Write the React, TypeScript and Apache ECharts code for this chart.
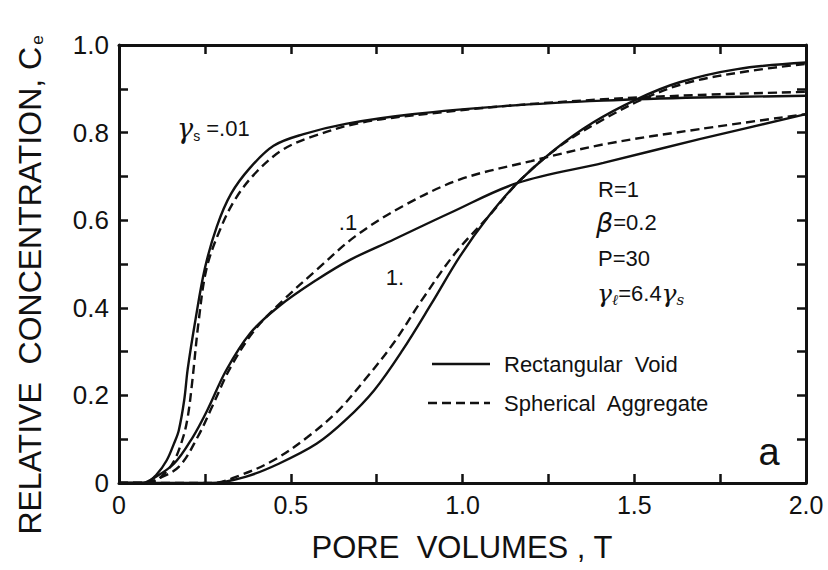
import React, { useEffect, useRef } from "react";
import * as echarts from "echarts";

// Tick values and labels
const xTickValues = [0, 0.5, 1.0, 1.5, 2.0];
const xTickLabels = ["0", "0.5", "1.0", "1.5", "2.0"];
const yTickValues = [0, 0.2, 0.4, 0.6, 0.8, 1.0];
const yTickLabels = ["0", "0.2", "0.4", "0.6", "0.8", "1.0"];

// gamma_s = .01
const rect001: [number, number][] = [
  [0, 0], [0.076, 0], [0.11, 0.02], [0.139, 0.052], [0.16, 0.09], [0.174, 0.12], [0.19, 0.19],
  [0.2, 0.26], [0.222, 0.37], [0.25, 0.49], [0.285, 0.586], [0.326, 0.66],
  [0.382, 0.72], [0.45, 0.77], [0.535, 0.796], [0.66, 0.82], [0.854, 0.842],
  [1.13, 0.861], [1.41, 0.873], [1.69, 0.88], [2.0, 0.884],
];
const sph001: [number, number][] = [
  [0, 0], [0.09, 0], [0.13, 0.02], [0.16, 0.05], [0.185, 0.1], [0.2, 0.15], [0.213, 0.23],
  [0.232, 0.37], [0.255, 0.49], [0.295, 0.58], [0.34, 0.65],
  [0.4, 0.71], [0.475, 0.76], [0.56, 0.79], [0.7, 0.822], [0.9, 0.843],
  [1.13, 0.861], [1.41, 0.876], [1.69, 0.886], [2.0, 0.893],
];

// gamma_s = .1
const rect01: [number, number][] = [
  [0, 0], [0.07, 0], [0.09, 0.006], [0.16, 0.044], [0.215, 0.105], [0.257, 0.166],
  [0.3125, 0.258], [0.382, 0.342], [0.465, 0.403], [0.576, 0.464], [0.674, 0.51],
  [0.8, 0.556], [0.965, 0.617], [1.16, 0.685], [1.41, 0.731], [1.69, 0.785], [2.0, 0.842],
];
const sph01: [number, number][] = [
  [0, 0], [0.08, 0], [0.104, 0.006], [0.174, 0.037], [0.229, 0.105], [0.271, 0.174],
  [0.326, 0.266], [0.396, 0.35], [0.479, 0.418], [0.576, 0.487], [0.6875, 0.563],
  [0.826, 0.632], [0.993, 0.693], [1.2, 0.735], [1.41, 0.773], [1.69, 0.808], [2.0, 0.842],
];

// gamma_s = 1.
const rect1: [number, number][] = [
  [0, 0], [0.27, 0], [0.368, 0.014], [0.465, 0.044], [0.576, 0.09], [0.66, 0.144],
  [0.743, 0.212], [0.826, 0.304], [0.91, 0.41], [0.993, 0.518], [1.076, 0.609],
  [1.16, 0.685], [1.27, 0.762], [1.38, 0.823], [1.507, 0.876], [1.632, 0.915],
  [1.8, 0.945], [2.0, 0.96],
];
const sph1: [number, number][] = [
  [0, 0], [0.27, 0], [0.354, 0.018], [0.45, 0.052], [0.549, 0.105], [0.639, 0.166],
  [0.715, 0.235], [0.799, 0.319], [0.882, 0.418], [0.979, 0.525], [1.076, 0.609],
  [1.17, 0.693], [1.285, 0.77], [1.41, 0.83], [1.535, 0.88], [1.66, 0.915],
  [1.83, 0.94], [2.0, 0.957],
];

const FONT = "Liberation Sans";
const INK = "#111";

function findLabel(values: number[], labels: string[], v: number): string {
  const i = values.findIndex((t) => Math.abs(t - v) < 1e-6);
  return i >= 0 ? labels[i] : "";
}

export default function App() {
  const ref = useRef<HTMLDivElement>(null);

  useEffect(() => {
    if (!ref.current) return;
    const chart = echarts.init(ref.current, undefined, { renderer: "svg" });

    const solid = { color: INK, width: 2.4, type: "solid" as const };
    const dashed = { color: INK, width: 2.4, type: [9, 5] as any };

    const mkSeries = (name: string, data: [number, number][], style: any) => ({
      name,
      type: "line",
      data,
      smooth: 0.35,
      showSymbol: false,
      symbol: "none",
      lineStyle: style,
      z: 3,
    });

    const axisCommon = {
      type: "value",
      min: 0,
      splitLine: { show: false },
      axisLine: { show: true, onZero: false, lineStyle: { color: INK, width: 3 } },
      axisTick: { show: true, inside: true, length: 9, lineStyle: { color: INK, width: 2.5 } },
    };

    chart.setOption({
      animation: false,
      backgroundColor: "#fff",
      grid: { left: 119, right: 22, top: 45, bottom: 87, containLabel: false },
      xAxis: [
        {
          ...axisCommon,
          max: 2.0,
          interval: 0.25,
          position: "bottom",
          axisLabel: {
            show: true,
            margin: 9,
            fontSize: 25,
            fontFamily: FONT,
            color: INK,
            formatter: (v: number) => findLabel(xTickValues, xTickLabels, v),
          },
        },
        {
          ...axisCommon,
          max: 2.0,
          interval: 0.25,
          position: "top",
          axisLabel: { show: false },
        },
      ],
      yAxis: [
        {
          ...axisCommon,
          max: 1.0,
          interval: 0.1,
          position: "left",
          axisLabel: {
            show: true,
            margin: 10,
            fontSize: 26,
            fontFamily: FONT,
            color: INK,
            formatter: (v: number) => findLabel(yTickValues, yTickLabels, v),
          },
        },
        {
          ...axisCommon,
          max: 1.0,
          interval: 0.1,
          position: "right",
          axisLabel: { show: false },
        },
      ],
      series: [
        mkSeries("Rectangular Void γs=.01", rect001, solid),
        mkSeries("Spherical Aggregate γs=.01", sph001, dashed),
        mkSeries("Rectangular Void γs=.1", rect01, solid),
        mkSeries("Spherical Aggregate γs=.1", sph01, dashed),
        mkSeries("Rectangular Void γs=1.", rect1, solid),
        mkSeries("Spherical Aggregate γs=1.", sph1, dashed),
      ],
      graphic: [
        // Y axis title
        {
          type: "text",
          x: 30,
          y: 285,
          rotation: Math.PI / 2,
          style: {
            text: "RELATIVE  CONCENTRATION, {c|C}{sub|e}",
            font: `32px ${FONT}`,
            fill: INK,
            align: "center",
            verticalAlign: "middle",
            rich: {
              c: { fontSize: 32, fontFamily: FONT, fill: INK },
              sub: { fontSize: 17, fontFamily: FONT, fill: INK, verticalAlign: "bottom", padding: [15, 0, 0, 2] },
            },
          } as any,
        },
        // X axis title
        {
          type: "text",
          x: 462,
          y: 547,
          style: {
            text: "PORE  VOLUMES , T",
            font: `31px ${FONT}`,
            fill: INK,
            align: "center",
            verticalAlign: "middle",
          },
        },
        // gamma_s = .01
        {
          type: "text",
          x: 177,
          y: 128,
          style: {
            text: "{g|γ}{s|s}{t| =.01}",
            fill: INK,
            align: "left",
            verticalAlign: "middle",
            rich: {
              g: { fontSize: 27, fontFamily: "DejaVu Serif", fontStyle: "italic", fill: INK },
              s: { fontSize: 14, fontFamily: FONT, fill: INK, padding: [16, 0, 0, 0] },
              t: { fontSize: 22, fontFamily: FONT, fill: INK },
            },
          } as any,
        },
        { type: "text", x: 348, y: 222, style: { text: ".1", font: `22px ${FONT}`, fill: INK, align: "center", verticalAlign: "middle" } },
        { type: "text", x: 395, y: 277, style: { text: "1.", font: `22px ${FONT}`, fill: INK, align: "center", verticalAlign: "middle" } },
        { type: "text", x: 598, y: 189, style: { text: "R=1", font: `22px ${FONT}`, fill: INK, align: "left", verticalAlign: "middle" } },
        {
          type: "text",
          x: 596,
          y: 222,
          style: {
            text: "{b|β}{t|=0.2}",
            align: "left",
            verticalAlign: "middle",
            rich: {
              b: { fontSize: 27, fontFamily: "DejaVu Sans", fontStyle: "italic", fill: INK },
              t: { fontSize: 22, fontFamily: FONT, fill: INK },
            },
          } as any,
        },
        { type: "text", x: 598, y: 258, style: { text: "P=30", font: `22px ${FONT}`, fill: INK, align: "left", verticalAlign: "middle" } },
        {
          type: "text",
          x: 597,
          y: 293,
          style: {
            text: "{g|γ}{s|ℓ}{t|=6.4}{g|γ}{s|s}",
            align: "left",
            verticalAlign: "middle",
            rich: {
              g: { fontSize: 25, fontFamily: "DejaVu Serif", fontStyle: "italic", fill: INK },
              s: { fontSize: 15, fontFamily: "DejaVu Serif", fontStyle: "italic", fill: INK, padding: [14, 0, 0, 0] },
              t: { fontSize: 22, fontFamily: FONT, fill: INK },
            },
          } as any,
        },
        // Legend
        { type: "line", shape: { x1: 432, y1: 364, x2: 490, y2: 364 }, style: { stroke: INK, lineWidth: 2.4 } },
        { type: "text", x: 504, y: 364, style: { text: "Rectangular  Void", font: `22px ${FONT}`, fill: INK, align: "left", verticalAlign: "middle" } },
        { type: "line", shape: { x1: 428, y1: 403, x2: 490, y2: 403 }, style: { stroke: INK, lineWidth: 2.4, lineDash: [9, 5] } },
        { type: "text", x: 504, y: 403, style: { text: "Spherical  Aggregate", font: `22px ${FONT}`, fill: INK, align: "left", verticalAlign: "middle" } },
        // panel letter
        { type: "text", x: 769, y: 452, style: { text: "a", font: `38px ${FONT}`, fill: INK, align: "center", verticalAlign: "middle" } },
      ],
    });

    return () => chart.dispose();
  }, []);

  return (
    <div
      ref={ref}
      style={{ position: "fixed", left: 0, top: 0, width: 828, height: 570, background: "#fff" }}
    />
  );
}
